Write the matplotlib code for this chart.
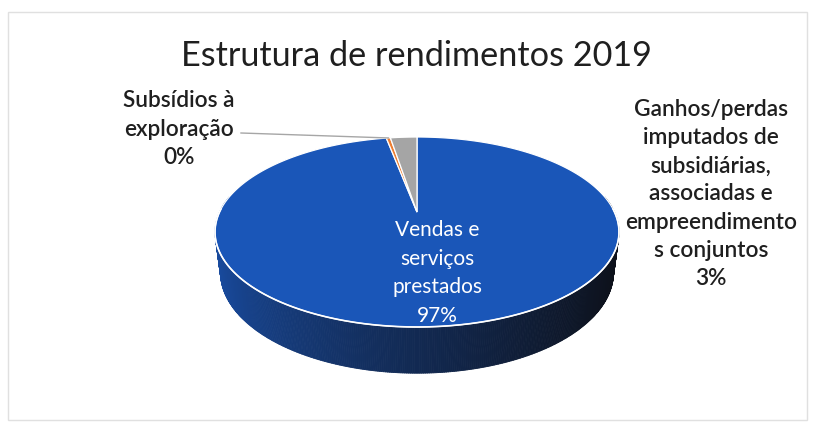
import numpy as np
import matplotlib
matplotlib.use('Agg')
import matplotlib.pyplot as plt
from matplotlib.patches import Polygon, Rectangle
from matplotlib.collections import PolyCollection

title = 'Estrutura de rendimentos 2019'
categories = ['Vendas e\nserviços\nprestados',
              'Subsídios à\nexploração',
              'Ganhos/perdas\nimputados de\nsubsidiárias,\nassociadas e\nempreendimento\ns conjuntos']
values = [97.0, 0.4, 2.6]
colors = ['#1a56b8', '#ed7d31', '#a5a5a5']

plt.rcParams['font.family'] = ['Lato', 'DejaVu Sans']

# 3d pie: unit disk seen in perspective, then fitted into a pixel box
elev = np.radians(28)
dist = np.cos(elev) / 0.21
box_x, box_w = 215, 404
box_y, box_h = 137, 190
thick_px = 46


def proj(x, y, z):
    c, s = np.cos(elev), np.sin(elev)
    d = dist + y * c - z * s
    return x / d, (y * s + z * c) / d


tt = np.radians(np.linspace(0, 360, 721))
u0, v0 = proj(np.cos(tt), np.sin(tt), 0)
umin, umax, vmin, vmax = u0.min(), u0.max(), v0.min(), v0.max()


def to_px(x, y, z):
    u, v = proj(x, y, z)
    return (box_x + (u - umin) / (umax - umin) * box_w,
            box_y + (vmax - v) / (vmax - vmin) * box_h)


# pick disk height so the front side is thick_px tall
hs = np.linspace(0.01, 1.5, 600)
gap = np.array([to_px(0, -1, -h)[1] - to_px(0, -1, 0)[1] for h in hs])
h = hs[np.argmin(np.abs(gap - thick_px))]

fig = plt.figure(figsize=(8.13, 4.22), dpi=100)
ax = fig.add_axes([0, 0, 1, 1])
ax.set_xlim(0, 813)
ax.set_ylim(422, 0)
ax.axis('off')

ax.add_patch(Rectangle((8, 12), 799, 408, fill=False, edgecolor='#e0e0e0', lw=1))

# side wall, shaded darker toward the right
light = np.array([0.10, 0.31, 0.66])
dark = np.array([0.05, 0.06, 0.09])
ts = np.radians(np.linspace(170, 370, 401))
quads, qcols, depth = [], [], []
for a, b in zip(ts[:-1], ts[1:]):
    p1 = to_px(np.cos(a), np.sin(a), 0)
    p2 = to_px(np.cos(b), np.sin(b), 0)
    p3 = to_px(np.cos(b), np.sin(b), -h)
    p4 = to_px(np.cos(a), np.sin(a), -h)
    quads.append([p1, p2, p3, p4])
    k = ((1 + np.cos((a + b) / 2)) / 2) ** 0.75
    qcols.append(light * (1 - k) + dark * k)
    depth.append(np.sin((a + b) / 2))
order = np.argsort(depth)[::-1]
ax.add_collection(PolyCollection([quads[i] for i in order],
                                 facecolors=[qcols[i] for i in order],
                                 edgecolors=[qcols[i] for i in order], linewidths=0.6))

# top face wedges, clockwise from 12 o'clock
apex = to_px(0, 0, 0)
frac = np.array(values) / sum(values)
start = 90.0
mids = []
for f, col in zip(frac, colors):
    end = start - 360 * f
    ang = np.radians(np.linspace(start, end, max(int(abs(end - start) * 2), 4)))
    xs, ys = to_px(np.cos(ang), np.sin(ang), 0)
    pts = [apex] + list(zip(xs, ys))
    ax.add_patch(Polygon(pts, closed=True, facecolor=col, edgecolor='white', lw=0.9))
    mids.append(np.radians((start + end) / 2))
    start = end

# white rim on the front edge
fr = np.radians(np.linspace(178, 362, 300))
rx, ry = to_px(np.cos(fr), np.sin(fr), 0)
ax.plot(rx, ry, color='white', lw=1.2)

txt = '#1f1f1f'
ax.text(416, 56, title, fontsize=24.7, color=txt, ha='center', va='center')

pct = [f'{round(v / sum(values) * 100):.0f}%' for v in values]
ax.text(437, 273, categories[0] + '\n' + pct[0], fontsize=15, color='white',
        ha='center', va='center', linespacing=1.55)
ax.text(179, 129, categories[1] + '\n' + pct[1], fontsize=16.3, color=txt,
        ha='center', va='center', linespacing=1.42, fontweight='semibold')
ax.text(711, 194, categories[2] + '\n' + pct[2], fontsize=16.3, color=txt,
        ha='center', va='center', linespacing=1.42, fontweight='semibold')

# leader for the tiny slice
lx, ly = to_px(np.cos(mids[1]), np.sin(mids[1]), 0)
ax.plot([241, lx], [133, ly], color='#a6a6a6', lw=1)

fig.savefig('out.png', dpi=100)
